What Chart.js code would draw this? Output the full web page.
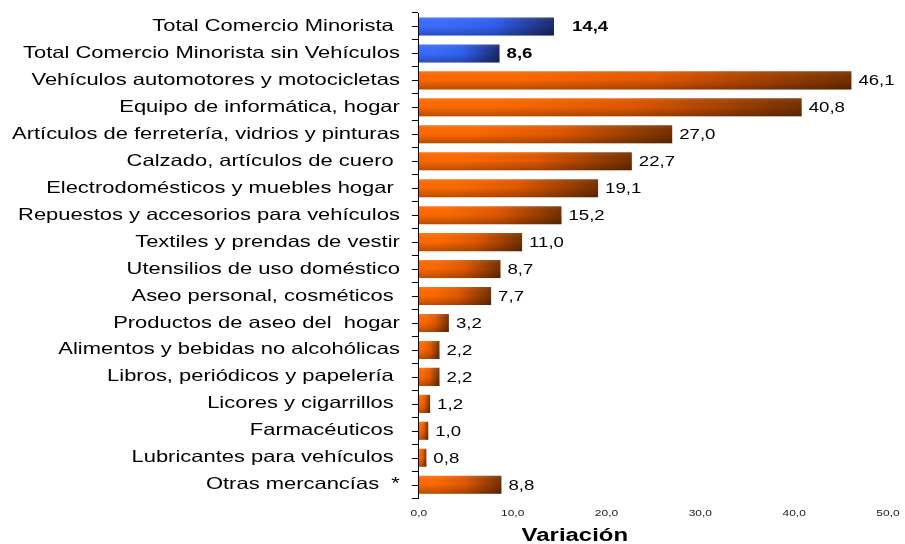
<!DOCTYPE html>
<html>
<head>
<meta charset="utf-8">
<script src="https://cdn.jsdelivr.net/npm/chart.js@4.4.1/dist/chart.umd.min.js"></script>
<style>
  html, body { margin: 0; padding: 0; background: #fff; }
  #wrap { width: 905px; height: 544px; }
</style>
</head>
<body>
<div id="wrap"><canvas id="chart"></canvas></div>
<script>
// categories, top to bottom
const categories = [
  "Total Comercio Minorista ",
  "Total Comercio Minorista sin Vehículos",
  "Vehículos automotores y motocicletas",
  "Equipo de informática, hogar",
  "Artículos de ferretería, vidrios y pinturas",
  "Calzado, artículos de cuero ",
  "Electrodomésticos y muebles hogar ",
  "Repuestos y accesorios para vehículos",
  "Textiles y prendas de vestir",
  "Utensilios de uso doméstico",
  "Aseo personal, cosméticos ",
  "Productos de aseo del  hogar",
  "Alimentos y bebidas no alcohólicas",
  "Libros, periódicos y papelería ",
  "Licores y cigarrillos ",
  "Farmacéuticos ",
  "Lubricantes para vehículos ",
  "Otras mercancías  *"
];
const values = [14.4, 8.6, 46.1, 40.8, 27.0, 22.7, 19.1, 15.2, 11.0, 8.7, 7.7, 3.2, 2.2, 2.2, 1.2, 1.0, 0.8, 8.8];
const isTotal = [true, true, false, false, false, false, false, false, false, false, false, false, false, false, false, false, false, false];
const xTicks = [0, 10, 20, 30, 40, 50];
const axisTitle = "Variación";

const FONT = "'Liberation Sans', Arial, sans-serif";
const fmt = v => v.toFixed(1).replace(".", ",");

// the original text is drawn horizontally stretched, so widen every glyph run
const SX = 1.33;
const proto = CanvasRenderingContext2D.prototype;
const origFill = proto.fillText;
const origMeasure = proto.measureText;
proto.fillText = function (t, x, y, mw) {
  this.save();
  this.translate(x, y);
  this.scale(SX, 1);
  if (mw === undefined) origFill.call(this, t, 0, 0);
  else origFill.call(this, t, 0, 0, mw / SX);
  this.restore();
};
proto.measureText = function (t) {
  const m = origMeasure.call(this, t);
  return {
    width: m.width * SX,
    actualBoundingBoxLeft: m.actualBoundingBoxLeft * SX,
    actualBoundingBoxRight: m.actualBoundingBoxRight * SX,
    actualBoundingBoxAscent: m.actualBoundingBoxAscent,
    actualBoundingBoxDescent: m.actualBoundingBoxDescent,
    fontBoundingBoxAscent: m.fontBoundingBoxAscent,
    fontBoundingBoxDescent: m.fontBoundingBoxDescent
  };
};

function barGradient(ctx) {
  const chart = ctx.chart;
  const total = isTotal[ctx.dataIndex];
  const stops = total
    ? ["#3a6cff", "#3160f0", "#1b2a6b"]
    : ["#ff6a00", "#e25800", "#743000"];
  const xs = chart.scales.x;
  if (!xs || !chart.chartArea) return stops[0];
  const x0 = xs.getPixelForValue(0);
  const x1 = xs.getPixelForValue(ctx.raw);
  if (!isFinite(x1) || Math.abs(x1 - x0) < 1) return stops[0];
  const g = chart.ctx.createLinearGradient(x0, 0, x1, 0);
  g.addColorStop(0, stops[0]);
  g.addColorStop(0.2, stops[0]);
  g.addColorStop(0.55, stops[1]);
  g.addColorStop(1, stops[2]);
  return g;
}

const decor = {
  id: "decor",
  afterDatasetsDraw(chart) {
    const ctx = chart.ctx;
    const meta = chart.getDatasetMeta(0);
    ctx.save();
    // vertical shading on each bar
    meta.data.forEach(el => {
      const p = el.getProps(["x", "y", "base", "height"], true);
      const top = p.y - p.height / 2;
      const g = ctx.createLinearGradient(0, top, 0, top + p.height);
      g.addColorStop(0, "rgba(255,255,255,0.10)");
      g.addColorStop(0.45, "rgba(0,0,0,0)");
      g.addColorStop(1, "rgba(0,0,0,0.28)");
      ctx.fillStyle = g;
      ctx.fillRect(p.base, top, p.x - p.base, p.height);
    });
    // value labels
    ctx.textBaseline = "middle";
    ctx.textAlign = "left";
    ctx.fillStyle = "#000";
    meta.data.forEach((el, i) => {
      const p = el.getProps(["x", "y"], true);
      ctx.font = (isTotal[i] ? "bold " : "") + "14px " + FONT;
      const gap = i === 0 ? 18 : 7;
      ctx.fillText(fmt(values[i]), p.x + gap, p.y + 1);
    });
    ctx.restore();
  },
  afterDraw(chart) {
    const ctx = chart.ctx;
    const ys = chart.scales.y;
    ctx.save();
    // small tick marks at the centre of every category
    ctx.strokeStyle = "#000";
    ctx.lineWidth = 1;
    ctx.beginPath();
    categories.forEach((c, i) => {
      const y = Math.round(ys.getPixelForValue(i)) + 0.5;
      ctx.moveTo(ys.right - 7, y);
      ctx.lineTo(ys.right, y);
    });
    ctx.stroke();
    // axis title
    ctx.font = "bold 18px " + FONT;
    ctx.fillStyle = "#000";
    ctx.textAlign = "center";
    ctx.textBaseline = "middle";
    ctx.fillText(axisTitle, chart.chartArea.left + 156, 536);
    ctx.restore();
  }
};

new Chart(document.getElementById("chart"), {
  type: "bar",
  data: {
    labels: categories,
    datasets: [{
      data: values,
      backgroundColor: barGradient,
      borderWidth: 0,
      barPercentage: 0.67,
      categoryPercentage: 1.0
    }]
  },
  options: {
    indexAxis: "y",
    responsive: true,
    maintainAspectRatio: false,
    animation: false,
    layout: { padding: { top: 13, right: 17, bottom: 15, left: 0 } },
    plugins: { legend: { display: false }, tooltip: { enabled: false } },
    scales: {
      x: {
        min: 0,
        max: 50,
        afterBuildTicks: s => { s.ticks = xTicks.map(v => ({ value: v })); },
        afterFit: s => { s.paddingLeft = 0; s.paddingRight = 0; },
        grid: { display: false, drawTicks: false },
        border: { display: false },
        ticks: {
          padding: 10,
          color: "#222",
          font: { family: FONT, size: 9 },
          maxRotation: 0,
          callback: v => fmt(v)
        }
      },
      y: {
        afterFit: s => { s.paddingTop = 0; s.paddingBottom = 0; },
        grid: {
          display: true,
          drawOnChartArea: false,
          drawTicks: true,
          tickLength: 7,
          color: "#000",
          offset: true
        },
        border: { display: true, color: "#000", width: 1 },
        ticks: {
          padding: 12,
          color: "#000",
          autoSkip: false,
          font: { family: FONT, size: 16.5 }
        }
      }
    }
  },
  plugins: [decor]
});
</script>
</body>
</html>
